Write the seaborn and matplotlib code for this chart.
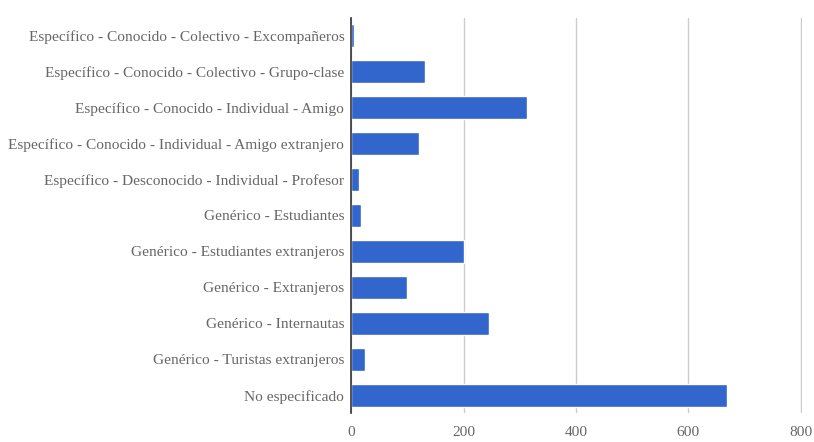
import matplotlib
matplotlib.use("Agg")
import matplotlib.pyplot as plt
import seaborn as sns
import pandas as pd

categorias = [
    "Específico - Conocido - Colectivo - Excompañeros",
    "Específico - Conocido - Colectivo - Grupo-clase",
    "Específico - Conocido - Individual - Amigo",
    "Específico - Conocido - Individual - Amigo extranjero",
    "Específico - Desconocido - Individual - Profesor",
    "Genérico - Estudiantes",
    "Genérico - Estudiantes extranjeros",
    "Genérico - Extranjeros",
    "Genérico - Internautas",
    "Genérico - Turistas extranjeros",
    "No especificado",
]
valores = [5, 131, 313, 121, 14, 18, 200, 99, 245, 25, 668]
ticks_x = [0, 200, 400, 600, 800]

df = pd.DataFrame({"cat": categorias, "val": valores})

sns.set_style("white")
plt.rcParams["font.family"] = ["Liberation Serif", "DejaVu Serif"]

fig = plt.figure(figsize=(8.14, 4.42), dpi=100)
ax = fig.add_axes([0.4315, 0.065, 0.5535, 0.895])

sns.barplot(data=df, y="cat", x="val", color="#3366cc", saturation=1,
            width=0.64, ax=ax, zorder=3)

ax.set_xlim(0, 802)
ax.set_xticks(ticks_x)
ax.set_xlabel("")
ax.set_ylabel("")
ax.grid(axis="x", color="#cccccc", linewidth=1, zorder=0)
ax.set_axisbelow(True)
for s in ["top", "right", "bottom"]:
    ax.spines[s].set_visible(False)
ax.spines["left"].set_color("#333333")
ax.spines["left"].set_linewidth(1.2)
ax.spines["left"].set_zorder(4)
ax.tick_params(axis="both", length=0, labelsize=11.1, colors="#666666", pad=5)
ax.tick_params(axis="x", pad=9)

fig.savefig("out.png", dpi=100)
